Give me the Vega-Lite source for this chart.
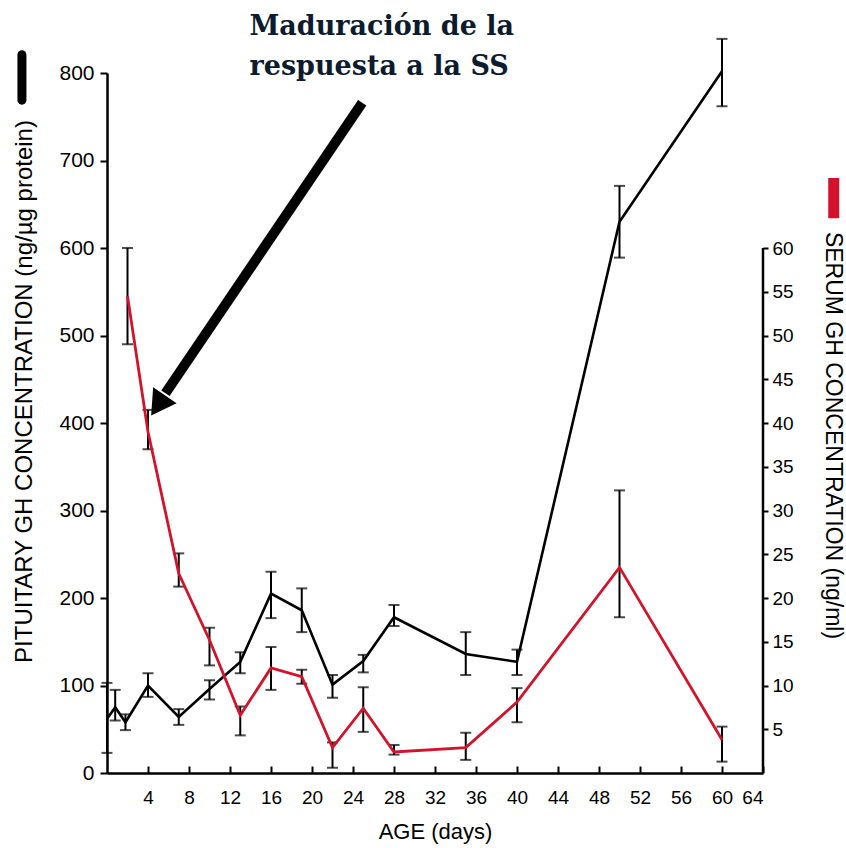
{
  "$schema": "https://vega.github.io/schema/vega-lite/v6.json",
  "autosize": {"type": "none"},
  "width": 656,
  "height": 700,
  "padding": {"left": 107, "top": 73, "right": 83, "bottom": 75},
  "background": "white",
  "config": {
    "view": {"stroke": null},
    "font": "Liberation Sans",
    "axis": {
      "grid": false,
      "domainColor": "black",
      "domainWidth": 2.5,
      "tickColor": "black",
      "tickWidth": 2,
      "labelColor": "black",
      "titleColor": "black",
      "labelFont": "Liberation Sans",
      "titleFont": "Liberation Sans",
      "titleFontWeight": "normal"
    }
  },
  "datasets": {
    "pituitary": [
      {"day": 0, "value": 62, "lo": 23, "hi": 103},
      {"day": 0.8, "value": 75, "lo": 60, "hi": 95},
      {"day": 1.8, "value": 58, "lo": 49, "hi": 67},
      {"day": 4, "value": 100, "lo": 87, "hi": 114},
      {"day": 7, "value": 64, "lo": 55, "hi": 73},
      {"day": 10, "value": 96, "lo": 84, "hi": 106},
      {"day": 13, "value": 127, "lo": 114, "hi": 138},
      {"day": 16, "value": 205, "lo": 177, "hi": 230},
      {"day": 19, "value": 186, "lo": 161, "hi": 211},
      {"day": 22, "value": 101, "lo": 86, "hi": 112},
      {"day": 25, "value": 128, "lo": 115, "hi": 135},
      {"day": 28, "value": 178, "lo": 168, "hi": 192},
      {"day": 35, "value": 136, "lo": 112, "hi": 161},
      {"day": 40, "value": 127, "lo": 112, "hi": 141},
      {"day": 50, "value": 630, "lo": 589, "hi": 671},
      {"day": 60, "value": 802, "lo": 762, "hi": 839}
    ],
    "serum": [
      {"day": 2, "value": 54.5, "lo": 49, "hi": 60},
      {"day": 4, "value": 39, "lo": 37, "hi": 41.5},
      {"day": 7, "value": 22.8, "lo": 21.3, "hi": 25.1},
      {"day": 10, "value": 15.2, "lo": 12.3, "hi": 16.6},
      {"day": 13, "value": 6.6, "lo": 4.3, "hi": 7.6},
      {"day": 16, "value": 12, "lo": 9.5, "hi": 14.4},
      {"day": 19, "value": 11, "lo": 10.2, "hi": 11.8},
      {"day": 22, "value": 2.9, "lo": 0.6, "hi": 3.5},
      {"day": 25, "value": 7.4, "lo": 4.7, "hi": 9.8},
      {"day": 28, "value": 2.4, "lo": 2.1, "hi": 3.2},
      {"day": 35, "value": 2.9, "lo": 1.5, "hi": 4.6},
      {"day": 40, "value": 8.1, "lo": 5.8, "hi": 9.7},
      {"day": 50, "value": 23.5, "lo": 17.8, "hi": 32.3},
      {"day": 60, "value": 3.8, "lo": 1.3, "hi": 5.3}
    ],
    "one": [{}]
  },
  "layer": [
    {
      "layer": [
        {
          "data": {"name": "pituitary"},
          "mark": {"type": "rule", "color": "black", "strokeWidth": 2},
          "encoding": {
            "x": {"field": "day", "type": "quantitative", "scale": {"domain": [0, 64], "nice": false, "zero": false},
                  "axis": {"title": "AGE (days)", "values": [4, 8, 12, 16, 20, 24, 28, 32, 36, 40, 44, 48, 52, 56, 60, 64], "tickSize": -7, "labelPadding": 22, "labelFontSize": 19, "titleFontSize": 22, "titlePadding": 14}},
            "y": {"field": "lo", "type": "quantitative", "scale": {"domain": [0, 800], "nice": false},
                  "axis": {"orient": "left", "title": "PITUITARY GH CONCENTRATION (ng/µg protein)", "values": [0, 100, 200, 300, 400, 500, 600, 700, 800], "labelFontSize": 21, "tickSize": 7, "labelPadding": 6, "titleFontSize": 24, "titleAngle": -90, "titleX": -83, "titleY": 318, "titleAlign": "center", "titleBaseline": "middle"}},
            "y2": {"field": "hi"}
          }
        },
        {
          "data": {"name": "pituitary"},
          "mark": {"type": "tick", "orient": "horizontal", "color": "black", "size": 11, "thickness": 2},
          "encoding": {
            "x": {"field": "day", "type": "quantitative", "scale": {"domain": [0, 64], "nice": false, "zero": false},
                  "axis": {"title": "AGE (days)", "values": [4, 8, 12, 16, 20, 24, 28, 32, 36, 40, 44, 48, 52, 56, 60, 64], "tickSize": -7, "labelPadding": 22, "labelFontSize": 19, "titleFontSize": 22, "titlePadding": 14}},
            "y": {"field": "lo", "type": "quantitative", "scale": {"domain": [0, 800], "nice": false},
                  "axis": {"orient": "left", "title": "PITUITARY GH CONCENTRATION (ng/µg protein)", "values": [0, 100, 200, 300, 400, 500, 600, 700, 800], "labelFontSize": 21, "tickSize": 7, "labelPadding": 6, "titleFontSize": 24, "titleAngle": -90, "titleX": -83, "titleY": 318, "titleAlign": "center", "titleBaseline": "middle"}}
          }
        },
        {
          "data": {"name": "pituitary"},
          "mark": {"type": "tick", "orient": "horizontal", "color": "black", "size": 11, "thickness": 2},
          "encoding": {
            "x": {"field": "day", "type": "quantitative", "scale": {"domain": [0, 64], "nice": false, "zero": false},
                  "axis": {"title": "AGE (days)", "values": [4, 8, 12, 16, 20, 24, 28, 32, 36, 40, 44, 48, 52, 56, 60, 64], "tickSize": -7, "labelPadding": 22, "labelFontSize": 19, "titleFontSize": 22, "titlePadding": 14}},
            "y": {"field": "hi", "type": "quantitative", "scale": {"domain": [0, 800], "nice": false},
                  "axis": {"orient": "left", "title": "PITUITARY GH CONCENTRATION (ng/µg protein)", "values": [0, 100, 200, 300, 400, 500, 600, 700, 800], "labelFontSize": 21, "tickSize": 7, "labelPadding": 6, "titleFontSize": 24, "titleAngle": -90, "titleX": -83, "titleY": 318, "titleAlign": "center", "titleBaseline": "middle"}}
          }
        },
        {
          "data": {"name": "pituitary"},
          "mark": {"type": "line", "color": "black", "strokeWidth": 2.6},
          "encoding": {
            "x": {"field": "day", "type": "quantitative", "scale": {"domain": [0, 64], "nice": false, "zero": false},
                  "axis": {"title": "AGE (days)", "values": [4, 8, 12, 16, 20, 24, 28, 32, 36, 40, 44, 48, 52, 56, 60, 64], "tickSize": -7, "labelPadding": 22, "labelFontSize": 19, "titleFontSize": 22, "titlePadding": 14}},
            "y": {"field": "value", "type": "quantitative", "scale": {"domain": [0, 800], "nice": false},
                  "axis": {"orient": "left", "title": "PITUITARY GH CONCENTRATION (ng/µg protein)", "values": [0, 100, 200, 300, 400, 500, 600, 700, 800], "labelFontSize": 21, "tickSize": 7, "labelPadding": 6, "titleFontSize": 24, "titleAngle": -90, "titleX": -83, "titleY": 318, "titleAlign": "center", "titleBaseline": "middle"}}
          }
        },
        {
          "data": {"name": "one"},
          "mark": {"type": "rule", "color": "black", "strokeWidth": 9, "strokeCap": "round"},
          "encoding": {
            "x": {"datum": -8.3, "type": "quantitative"},
            "y": {"datum": 769, "type": "quantitative"},
            "y2": {"datum": 821}
          }
        },
        {
          "data": {"name": "one"},
          "mark": {"type": "rule", "color": "black", "strokeWidth": 10},
          "encoding": {
            "x": {"datum": 24.9, "type": "quantitative"},
            "y": {"datum": 766, "type": "quantitative"},
            "x2": {"datum": 5.7},
            "y2": {"datum": 434}
          }
        },
        {
          "data": {"name": "one"},
          "mark": {"type": "point", "shape": "triangle", "angle": 214, "size": 800, "filled": true, "color": "black", "opacity": 1},
          "encoding": {
            "x": {"datum": 5.2, "type": "quantitative"},
            "y": {"datum": 424, "type": "quantitative"}
          }
        },
        {
          "data": {"name": "one"},
          "mark": {"type": "text", "text": ["Maduración de la", "respuesta a la SS"], "align": "left", "baseline": "top", "font": "DejaVu Serif", "fontWeight": "bold", "fontSize": 27, "lineHeight": 40, "color": "#0d1b2f"},
          "encoding": {
            "x": {"datum": 13.9, "type": "quantitative"},
            "y": {"datum": 868, "type": "quantitative"}
          }
        }
      ]
    },
    {
      "layer": [
        {
          "data": {"name": "serum"},
          "mark": {"type": "rule", "color": "black", "strokeWidth": 2},
          "encoding": {
            "x": {"field": "day", "type": "quantitative", "scale": {"domain": [0, 64], "nice": false, "zero": false},
                  "axis": {"title": "AGE (days)", "values": [4, 8, 12, 16, 20, 24, 28, 32, 36, 40, 44, 48, 52, 56, 60, 64], "tickSize": -7, "labelPadding": 22, "labelFontSize": 19, "titleFontSize": 22, "titlePadding": 14}},
            "y": {"field": "lo", "type": "quantitative", "scale": {"domain": [0, 80], "nice": false},
                  "axis": {"orient": "right", "domain": false, "title": "SERUM GH CONCENTRATION (ng/ml)", "values": [5, 10, 15, 20, 25, 30, 35, 40, 45, 50, 55, 60], "labelFontSize": 19, "tickSize": 5, "labelPadding": 4, "titleFontSize": 23, "titleAngle": 90, "titleX": 69, "titleY": 362, "titleAlign": "center", "titleBaseline": "middle"}},
            "y2": {"field": "hi"}
          }
        },
        {
          "data": {"name": "serum"},
          "mark": {"type": "tick", "orient": "horizontal", "color": "black", "size": 11, "thickness": 2},
          "encoding": {
            "x": {"field": "day", "type": "quantitative", "scale": {"domain": [0, 64], "nice": false, "zero": false},
                  "axis": {"title": "AGE (days)", "values": [4, 8, 12, 16, 20, 24, 28, 32, 36, 40, 44, 48, 52, 56, 60, 64], "tickSize": -7, "labelPadding": 22, "labelFontSize": 19, "titleFontSize": 22, "titlePadding": 14}},
            "y": {"field": "lo", "type": "quantitative", "scale": {"domain": [0, 80], "nice": false},
                  "axis": {"orient": "right", "domain": false, "title": "SERUM GH CONCENTRATION (ng/ml)", "values": [5, 10, 15, 20, 25, 30, 35, 40, 45, 50, 55, 60], "labelFontSize": 19, "tickSize": 5, "labelPadding": 4, "titleFontSize": 23, "titleAngle": 90, "titleX": 69, "titleY": 362, "titleAlign": "center", "titleBaseline": "middle"}}
          }
        },
        {
          "data": {"name": "serum"},
          "mark": {"type": "tick", "orient": "horizontal", "color": "black", "size": 11, "thickness": 2},
          "encoding": {
            "x": {"field": "day", "type": "quantitative", "scale": {"domain": [0, 64], "nice": false, "zero": false},
                  "axis": {"title": "AGE (days)", "values": [4, 8, 12, 16, 20, 24, 28, 32, 36, 40, 44, 48, 52, 56, 60, 64], "tickSize": -7, "labelPadding": 22, "labelFontSize": 19, "titleFontSize": 22, "titlePadding": 14}},
            "y": {"field": "hi", "type": "quantitative", "scale": {"domain": [0, 80], "nice": false},
                  "axis": {"orient": "right", "domain": false, "title": "SERUM GH CONCENTRATION (ng/ml)", "values": [5, 10, 15, 20, 25, 30, 35, 40, 45, 50, 55, 60], "labelFontSize": 19, "tickSize": 5, "labelPadding": 4, "titleFontSize": 23, "titleAngle": 90, "titleX": 69, "titleY": 362, "titleAlign": "center", "titleBaseline": "middle"}}
          }
        },
        {
          "data": {"name": "serum"},
          "mark": {"type": "line", "color": "#d3132b", "strokeWidth": 2.8},
          "encoding": {
            "x": {"field": "day", "type": "quantitative", "scale": {"domain": [0, 64], "nice": false, "zero": false},
                  "axis": {"title": "AGE (days)", "values": [4, 8, 12, 16, 20, 24, 28, 32, 36, 40, 44, 48, 52, 56, 60, 64], "tickSize": -7, "labelPadding": 22, "labelFontSize": 19, "titleFontSize": 22, "titlePadding": 14}},
            "y": {"field": "value", "type": "quantitative", "scale": {"domain": [0, 80], "nice": false},
                  "axis": {"orient": "right", "domain": false, "title": "SERUM GH CONCENTRATION (ng/ml)", "values": [5, 10, 15, 20, 25, 30, 35, 40, 45, 50, 55, 60], "labelFontSize": 19, "tickSize": 5, "labelPadding": 4, "titleFontSize": 23, "titleAngle": 90, "titleX": 69, "titleY": 362, "titleAlign": "center", "titleBaseline": "middle"}}
          }
        },
        {
          "data": {"name": "one"},
          "mark": {"type": "rule", "color": "black", "strokeWidth": 2.5},
          "encoding": {
            "x": {"datum": 64, "type": "quantitative"},
            "y": {"datum": 0, "type": "quantitative"},
            "y2": {"datum": 60}
          }
        },
        {
          "data": {"name": "one"},
          "mark": {"type": "rule", "color": "#d3132b", "strokeWidth": 11},
          "encoding": {
            "x": {"datum": 70.9, "type": "quantitative"},
            "y": {"datum": 63.4, "type": "quantitative"},
            "y2": {"datum": 68}
          }
        }
      ]
    }
  ],
  "resolve": {"scale": {"y": "independent"}, "axis": {"y": "independent"}}
}
